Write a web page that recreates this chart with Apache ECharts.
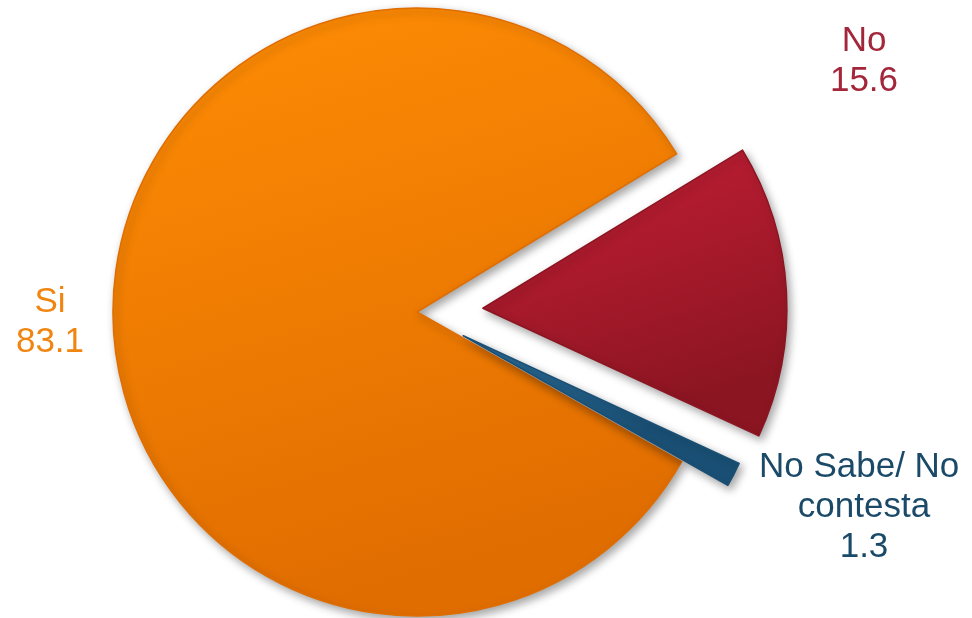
<!DOCTYPE html>
<html>
<head>
<meta charset="utf-8">
<script src="https://cdn.jsdelivr.net/npm/echarts@6/dist/echarts.min.js"></script>
<style>
html,body{margin:0;padding:0;background:#fff;}
#chart{width:972px;height:618px;}
</style>
</head>
<body>
<div id="chart"></div>
<script>
// ---- data ----
var categories = ['Si', 'No', 'No Sabe/ No contesta'];
var values = [83.1, 15.6, 1.3];

// ---- styles ----
var sliceTop = ['#FF8D05', '#C61F36', '#2D709D'];
var sliceBottom = ['#E06D00', '#8C1522', '#1A5075'];
var labelColors = ['#F08512', '#A3263A', '#1B4A69'];
var explodeOffsets = [0, 66, 52];
var labelPos = [[50, 322], [864, 61], [864, 507]];

var chart = echarts.init(document.getElementById('chart'), null, {renderer: 'canvas'});

var series = categories.map(function (cat, k) {
  return {
    type: 'pie',
    center: [417, 312],
    radius: [0, 304],
    startAngle: 330.5,
    clockwise: true,
    selectedMode: 'multiple',
    selectedOffset: explodeOffsets[k],
    avoidLabelOverlap: false,
    animation: false,
    silent: true,
    emphasis: {disabled: true},
    label: {show: false},
    labelLine: {show: false},
    data: categories.map(function (name, i) {
      var visible = i === k;
      return {
        name: name,
        value: values[i],
        selected: visible,
        itemStyle: visible ? {
          color: {
            type: 'linear', x: 0, y: 0, x2: 0.3, y2: 1,
            colorStops: [{offset: 0, color: sliceTop[i]}, {offset: 1, color: sliceBottom[i]}]
          },
          borderColor: sliceBottom[i],
          borderWidth: 1.5,
          shadowBlur: 8,
          shadowColor: 'rgba(0,0,0,0.35)',
          shadowOffsetX: 3,
          shadowOffsetY: 4
        } : {color: 'rgba(0,0,0,0)', borderWidth: 0}
      };
    })
  };
});

var labels = categories.map(function (name, i) {
  return {
    type: 'text',
    x: labelPos[i][0],
    y: labelPos[i][1],
    silent: true,
    style: {
      text: name + '\n' + values[i],
      fill: labelColors[i],
      fontFamily: 'Liberation Sans, Arial, sans-serif',
      fontSize: 35,
      lineHeight: 40,
      width: 215,
      overflow: 'break',
      align: 'center',
      verticalAlign: 'middle'
    }
  };
});

chart.setOption({
  backgroundColor: '#ffffff',
  animation: false,
  series: series,
  graphic: labels
});
</script>
</body>
</html>
